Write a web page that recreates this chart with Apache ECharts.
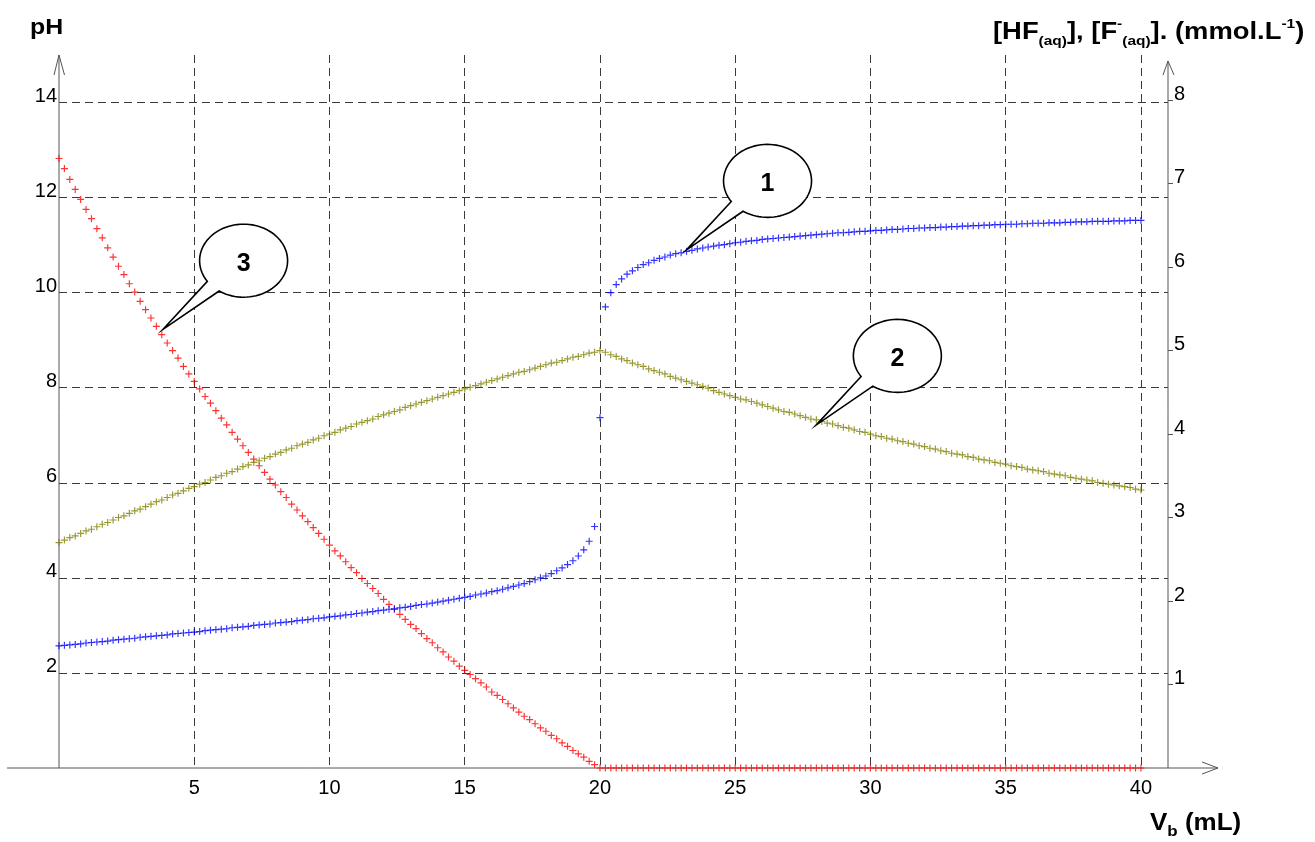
<!DOCTYPE html>
<html>
<head>
<meta charset="utf-8">
<script src="https://cdn.jsdelivr.net/npm/echarts@6/dist/echarts.min.js"></script>
<style>
  html, body { margin: 0; padding: 0; background: #fff; }
  #chart { width: 1315px; height: 842px; }
</style>
</head>
<body>
<div id="chart"></div>
<script>
// added base volume Vb (mL), one reading every 0.2 mL
const vb = [
  0, 0.2, 0.4, 0.6, 0.8, 1, 1.2, 1.4, 1.6, 1.8,
  2, 2.2, 2.4, 2.6, 2.8, 3, 3.2, 3.4, 3.6, 3.8,
  4, 4.2, 4.4, 4.6, 4.8, 5, 5.2, 5.4, 5.6, 5.8,
  6, 6.2, 6.4, 6.6, 6.8, 7, 7.2, 7.4, 7.6, 7.8,
  8, 8.2, 8.4, 8.6, 8.8, 9, 9.2, 9.4, 9.6, 9.8,
  10, 10.2, 10.4, 10.6, 10.8, 11, 11.2, 11.4, 11.6, 11.8,
  12, 12.2, 12.4, 12.6, 12.8, 13, 13.2, 13.4, 13.6, 13.8,
  14, 14.2, 14.4, 14.6, 14.8, 15, 15.2, 15.4, 15.6, 15.8,
  16, 16.2, 16.4, 16.6, 16.8, 17, 17.2, 17.4, 17.6, 17.8,
  18, 18.2, 18.4, 18.6, 18.8, 19, 19.2, 19.4, 19.6, 19.8,
  20, 20.2, 20.4, 20.6, 20.8, 21, 21.2, 21.4, 21.6, 21.8,
  22, 22.2, 22.4, 22.6, 22.8, 23, 23.2, 23.4, 23.6, 23.8,
  24, 24.2, 24.4, 24.6, 24.8, 25, 25.2, 25.4, 25.6, 25.8,
  26, 26.2, 26.4, 26.6, 26.8, 27, 27.2, 27.4, 27.6, 27.8,
  28, 28.2, 28.4, 28.6, 28.8, 29, 29.2, 29.4, 29.6, 29.8,
  30, 30.2, 30.4, 30.6, 30.8, 31, 31.2, 31.4, 31.6, 31.8,
  32, 32.2, 32.4, 32.6, 32.8, 33, 33.2, 33.4, 33.6, 33.8,
  34, 34.2, 34.4, 34.6, 34.8, 35, 35.2, 35.4, 35.6, 35.8,
  36, 36.2, 36.4, 36.6, 36.8, 37, 37.2, 37.4, 37.6, 37.8,
  38, 38.2, 38.4, 38.6, 38.8, 39, 39.2, 39.4, 39.6, 39.8,
  40
];

// curve 1 : pH (left axis)
const pH = [
  2.57, 2.58, 2.59, 2.60, 2.61, 2.63, 2.64, 2.65, 2.66, 2.67,
  2.69, 2.70, 2.71, 2.72, 2.73, 2.75, 2.76, 2.77, 2.78, 2.79,
  2.80, 2.82, 2.83, 2.84, 2.85, 2.86, 2.87, 2.89, 2.90, 2.91,
  2.92, 2.93, 2.95, 2.96, 2.97, 2.98, 3.00, 3.01, 3.02, 3.03,
  3.05, 3.06, 3.07, 3.08, 3.10, 3.11, 3.12, 3.14, 3.15, 3.16,
  3.18, 3.19, 3.20, 3.22, 3.23, 3.25, 3.26, 3.28, 3.29, 3.31,
  3.32, 3.34, 3.35, 3.37, 3.38, 3.40, 3.42, 3.44, 3.45, 3.47,
  3.49, 3.51, 3.53, 3.55, 3.57, 3.59, 3.61, 3.64, 3.66, 3.68,
  3.71, 3.73, 3.76, 3.79, 3.82, 3.85, 3.88, 3.92, 3.96, 4.00,
  4.04, 4.09, 4.15, 4.21, 4.28, 4.36, 4.46, 4.59, 4.77, 5.08,
  7.37, 9.70, 10.00, 10.17, 10.29, 10.39, 10.46, 10.53, 10.59, 10.63,
  10.68, 10.72, 10.75, 10.79, 10.82, 10.84, 10.87, 10.89, 10.92, 10.94,
  10.96, 10.98, 11.00, 11.01, 11.03, 11.05, 11.06, 11.08, 11.09, 11.10,
  11.12, 11.13, 11.14, 11.15, 11.16, 11.17, 11.18, 11.19, 11.20, 11.21,
  11.22, 11.23, 11.24, 11.25, 11.26, 11.26, 11.27, 11.28, 11.29, 11.29,
  11.30, 11.31, 11.31, 11.32, 11.33, 11.33, 11.34, 11.35, 11.35, 11.36,
  11.36, 11.37, 11.37, 11.38, 11.38, 11.39, 11.39, 11.40, 11.40, 11.41,
  11.41, 11.42, 11.42, 11.43, 11.43, 11.44, 11.44, 11.44, 11.45, 11.45,
  11.46, 11.46, 11.46, 11.47, 11.47, 11.47, 11.48, 11.48, 11.49, 11.49,
  11.49, 11.50, 11.50, 11.50, 11.50, 11.51, 11.51, 11.51, 11.52, 11.52,
  11.52
];

// curve 2 : [F-] in mmol/L (right axis)
const fluoride = [
  2.70, 2.73, 2.76, 2.78, 2.81, 2.84, 2.86, 2.89, 2.92, 2.94,
  2.97, 3.00, 3.02, 3.05, 3.08, 3.10, 3.13, 3.16, 3.19, 3.21,
  3.24, 3.27, 3.29, 3.32, 3.35, 3.37, 3.40, 3.42, 3.45, 3.48,
  3.50, 3.53, 3.55, 3.58, 3.61, 3.63, 3.66, 3.68, 3.71, 3.73,
  3.76, 3.78, 3.81, 3.83, 3.86, 3.88, 3.90, 3.93, 3.95, 3.98,
  4.00, 4.02, 4.05, 4.07, 4.09, 4.12, 4.14, 4.16, 4.18, 4.21,
  4.23, 4.25, 4.27, 4.29, 4.32, 4.34, 4.36, 4.38, 4.40, 4.42,
  4.44, 4.46, 4.48, 4.50, 4.52, 4.54, 4.56, 4.58, 4.60, 4.62,
  4.64, 4.66, 4.68, 4.70, 4.72, 4.74, 4.75, 4.77, 4.79, 4.81,
  4.83, 4.85, 4.86, 4.88, 4.90, 4.92, 4.93, 4.95, 4.97, 4.98,
  5.00, 4.98, 4.95, 4.93, 4.90, 4.88, 4.85, 4.83, 4.81, 4.78,
  4.76, 4.74, 4.72, 4.69, 4.67, 4.65, 4.63, 4.61, 4.59, 4.57,
  4.55, 4.52, 4.50, 4.48, 4.46, 4.44, 4.42, 4.41, 4.39, 4.37,
  4.35, 4.33, 4.31, 4.29, 4.27, 4.26, 4.24, 4.22, 4.20, 4.18,
  4.17, 4.15, 4.13, 4.12, 4.10, 4.08, 4.07, 4.05, 4.03, 4.02,
  4.00, 3.98, 3.97, 3.95, 3.94, 3.92, 3.91, 3.89, 3.88, 3.86,
  3.85, 3.83, 3.82, 3.80, 3.79, 3.77, 3.76, 3.75, 3.73, 3.72,
  3.70, 3.69, 3.68, 3.66, 3.65, 3.64, 3.62, 3.61, 3.60, 3.58,
  3.57, 3.56, 3.55, 3.53, 3.52, 3.51, 3.50, 3.48, 3.47, 3.46,
  3.45, 3.44, 3.42, 3.41, 3.40, 3.39, 3.38, 3.37, 3.36, 3.34,
  3.33
];

// curve 3 : [HF] in mmol/L (right axis)
const hf = [
  7.30, 7.18, 7.05, 6.93, 6.81, 6.69, 6.58, 6.46, 6.35, 6.23,
  6.12, 6.01, 5.91, 5.80, 5.70, 5.59, 5.49, 5.39, 5.29, 5.19,
  5.09, 5.00, 4.91, 4.81, 4.72, 4.63, 4.54, 4.45, 4.37, 4.28,
  4.19, 4.11, 4.02, 3.94, 3.86, 3.78, 3.70, 3.62, 3.54, 3.46,
  3.39, 3.31, 3.24, 3.16, 3.09, 3.02, 2.95, 2.88, 2.81, 2.74,
  2.67, 2.60, 2.54, 2.47, 2.40, 2.34, 2.27, 2.21, 2.15, 2.09,
  2.02, 1.96, 1.90, 1.84, 1.78, 1.72, 1.67, 1.61, 1.55, 1.50,
  1.44, 1.39, 1.33, 1.28, 1.22, 1.17, 1.12, 1.07, 1.02, 0.97,
  0.91, 0.87, 0.82, 0.77, 0.72, 0.67, 0.62, 0.58, 0.53, 0.48,
  0.44, 0.39, 0.35, 0.30, 0.26, 0.21, 0.17, 0.13, 0.08, 0.04,
  0, 0, 0, 0, 0, 0, 0, 0, 0, 0,
  0, 0, 0, 0, 0, 0, 0, 0, 0, 0,
  0, 0, 0, 0, 0, 0, 0, 0, 0, 0,
  0, 0, 0, 0, 0, 0, 0, 0, 0, 0,
  0, 0, 0, 0, 0, 0, 0, 0, 0, 0,
  0, 0, 0, 0, 0, 0, 0, 0, 0, 0,
  0, 0, 0, 0, 0, 0, 0, 0, 0, 0,
  0, 0, 0, 0, 0, 0, 0, 0, 0, 0,
  0, 0, 0, 0, 0, 0, 0, 0, 0, 0,
  0, 0, 0, 0, 0, 0, 0, 0, 0, 0,
  0
];

const xTicks = [5, 10, 15, 20, 25, 30, 35, 40];
const phTicks = [2, 4, 6, 8, 10, 12, 14];
const concTicks = [1, 2, 3, 4, 5, 6, 7, 8];

// numbered callouts: where the tail touches the curve (axis 0 = pH, 1 = mmol/L)
const callouts = [
  { label: '1', x: 23.2, y: 10.9, axis: 0 },
  { label: '2', x: 28.0, y: 4.11, axis: 1 },
  { label: '3', x: 3.83, y: 5.25, axis: 1 }
];

const FONT = '"Liberation Sans", Arial, sans-serif';
const PLUS = 'path://M3,0H4.2V3H7.2V4.2H4.2V7.2H3V4.2H0V3H3Z';
const AXIS_COLOR = '#555';

const chart = echarts.init(document.getElementById('chart'));

function pairs(ys) {
  return vb.map((x, i) => [x, ys[i]]);
}

const gridDash = { color: '#3a3a3a', width: 1, type: [8, 5] };
const tickLabel = { color: '#000', fontFamily: FONT, fontSize: 20 };

function markers(name, ys, axis, color) {
  return {
    name: name,
    type: 'scatter',
    xAxisIndex: 0,
    yAxisIndex: axis,
    data: pairs(ys),
    symbol: PLUS,
    symbolSize: 7,
    clip: false,
    itemStyle: { color: color, borderWidth: 0 },
    emphasis: { disabled: true }
  };
}

const option = {
  animation: false,
  backgroundColor: '#fff',
  grid: { left: 59, right: 147, top: 55, bottom: 74 },
  xAxis: {
    type: 'value', min: 0, max: 41, interval: 5,
    axisLine: { show: false },
    axisTick: { show: false },
    axisLabel: Object.assign({ customValues: xTicks, margin: 10, lineHeight: 20 }, tickLabel),
    splitLine: { show: true, showMinLine: false, showMaxLine: false, lineStyle: gridDash }
  },
  yAxis: [
    {
      type: 'value', min: 0, max: 15, interval: 2, position: 'left',
      axisLine: { show: false },
      axisTick: { show: false },
      axisLabel: Object.assign({ customValues: phTicks, margin: 2, lineHeight: 12, verticalAlign: 'bottom' }, tickLabel),
      splitLine: { show: true, showMinLine: false, showMaxLine: false, lineStyle: gridDash }
    },
    {
      type: 'value', min: 0, max: 8.54, interval: 1, position: 'right',
      axisLine: { show: false },
      axisTick: { show: true, customValues: concTicks, length: 5, lineStyle: { color: AXIS_COLOR } },
      axisLabel: Object.assign({ customValues: concTicks, margin: 6, lineHeight: 12, verticalAlign: 'bottom' }, tickLabel),
      splitLine: { show: false }
    }
  ],
  series: [
    markers('[HF]', hf, 1, '#ff0000'),
    markers('[F-]', fluoride, 1, '#808000'),
    markers('pH', pH, 0, '#0000ff')
  ]
};

chart.setOption(option);

// axes with arrows, titles and speech-bubble callouts
const origin = chart.convertToPixel({ xAxisIndex: 0, yAxisIndex: 0 }, [0, 0]);
const corner = chart.convertToPixel({ xAxisIndex: 0, yAxisIndex: 0 }, [41, 15]);
const x0 = origin[0], y0 = origin[1], x1 = corner[0], yTop = corner[1];
const axisStyle = { stroke: AXIS_COLOR, lineWidth: 1, fill: null };

const graphics = [
  { type: 'line', shape: { x1: x0 - 52, y1: y0, x2: x1 + 50, y2: y0 }, style: axisStyle },
  { type: 'polyline', shape: { points: [[x1 + 34, y0 - 6], [x1 + 50, y0], [x1 + 34, y0 + 6]] }, style: axisStyle },
  { type: 'line', shape: { x1: x0, y1: y0, x2: x0, y2: yTop }, style: axisStyle },
  { type: 'polyline', shape: { points: [[x0 - 5, yTop + 20], [x0, yTop], [x0 + 5.5, yTop + 20]] }, style: axisStyle },
  { type: 'line', shape: { x1: x1, y1: y0, x2: x1, y2: yTop + 6 }, style: axisStyle },
  { type: 'polyline', shape: { points: [[x1 - 5, yTop + 20], [x1, yTop + 6], [x1 + 6, yTop + 20]] }, style: axisStyle },
  {
    type: 'text', x: 30, y: 17, scaleX: 1.13,
    style: { text: 'pH', font: 'bold 22px ' + FONT, fill: '#000', verticalAlign: 'top' }
  },
  {
    type: 'text', x: 993, y: 17.5, scaleX: 1.19,
    style: {
      text: '{m|[HF}{s|(aq)}{m|], [F}{p|-}{s|(aq)}{m|]. (mmol.L}{p|-1}{m|)}',
      verticalAlign: 'top',
      rich: {
        m: { font: 'bold 23px ' + FONT, fill: '#000', lineHeight: 30 },
        s: { font: 'bold 13px ' + FONT, fill: '#000', lineHeight: 15, verticalAlign: 'bottom' },
        p: { font: 'bold 13px ' + FONT, fill: '#000', lineHeight: 22, verticalAlign: 'top' }
      }
    }
  },
  {
    type: 'text', x: 1150, y: 809, scaleX: 1.13,
    style: {
      text: '{m|V}{s|b}{m| (mL)}',
      verticalAlign: 'top',
      rich: {
        m: { font: 'bold 23px ' + FONT, fill: '#000', lineHeight: 30 },
        s: { font: 'bold 15px ' + FONT, fill: '#000', lineHeight: 15, verticalAlign: 'bottom' }
      }
    }
  }
];

callouts.forEach(c => {
  const tip = chart.convertToPixel({ xAxisIndex: 0, yAxisIndex: c.axis }, [c.x, c.y]);
  const cx = tip[0] + 81, cy = tip[1] - 69, rx = 44, ry = 36.5;
  const pts = [tip];
  const start = 145.5, end = 483.8;
  for (let a = start; a < end; a += 4) {
    const t = a * Math.PI / 180;
    pts.push([cx + rx * Math.cos(t), cy + ry * Math.sin(t)]);
  }
  const te = end * Math.PI / 180;
  pts.push([cx + rx * Math.cos(te), cy + ry * Math.sin(te)]);
  graphics.push({
    type: 'polygon', z: 100,
    shape: { points: pts },
    style: { fill: '#fff', stroke: '#000', lineWidth: 1.6 }
  });
  graphics.push({
    type: 'text', z: 101, x: cx, y: cy + 3,
    style: { text: c.label, font: 'bold 25px ' + FONT, fill: '#000', align: 'center', verticalAlign: 'middle' }
  });
});

chart.setOption({ graphic: graphics });
</script>
</body>
</html>
